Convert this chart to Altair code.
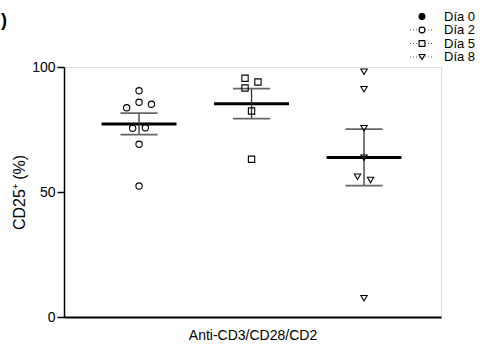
import altair as alt
import pandas as pd

# ---- data ----
groups = ["Día 2", "Día 5", "Día 8"]
group_pos = [1, 2, 3]
dia2_vals = [90.5, 85.9, 83.7, 85.1, 75.5, 75.7, 69.1, 52.4]
dia2_jit = [0.0, 0.0, -0.11, 0.11, -0.057, 0.056, 0.0, 0.0]
dia5_vals = [95.5, 94.0, 91.6, 82.4, 63.1]
dia5_jit = [-0.058, 0.057, -0.058, 0.0, 0.0]
dia8_vals = [98.1, 91.1, 75.5, 63.7, 56.1, 54.8, 7.5]
dia8_jit = [0.0, 0.0, 0.0, 0.0, -0.058, 0.058, 0.0]
legend_labels = ["Día 0", "Día 2", "Día 5", "Día 8"]
legend_shapes = ["circle", "circle", "square", "triangle-down"]
y_ticks = [0, 50, 100]

rows = []
for g, p, vals, jit in zip(groups, group_pos,
                           [dia2_vals, dia5_vals, dia8_vals],
                           [dia2_jit, dia5_jit, dia8_jit]):
    for v, j in zip(vals, jit):
        rows.append({"grupo": g, "pos": p, "xj": p + j, "valor": v})
df = pd.DataFrame(rows)

FONT = "Liberation Sans"
xscale = alt.Scale(domain=[0.333, 3.684], nice=False, zero=False)
yscale = alt.Scale(domain=[0, 100], nice=False)

base = alt.Chart(df)

points = base.mark_point(filled=False, stroke="black", strokeWidth=1.1, size=40, opacity=1).encode(
    x=alt.X("xj:Q", scale=xscale,
            axis=alt.Axis(title="Anti-CD3/CD28/CD2", labels=False, ticks=False, grid=False,
                          domainColor="black", domainWidth=2, titleFont=FONT,
                          titleFontSize=14, titleFontWeight="normal", titleColor="black",
                          titlePadding=11)),
    y=alt.Y("valor:Q", scale=yscale,
            axis=alt.Axis(title="CD25⁺ (%)", values=y_ticks, grid=False, tickSize=7,
                          tickColor="black", tickWidth=1.5, domainColor="black",
                          domainWidth=1.5, labelFont=FONT, labelFontSize=14,
                          labelColor="black", labelPadding=2, titleFont=FONT,
                          titleFontSize=16, titleFontWeight="normal", titleColor="black",
                          titlePadding=4)),
    shape=alt.Shape("grupo:N", scale=alt.Scale(domain=groups,
                                               range=["circle", "square", "triangle-down"]),
                    legend=None),
)

stats = base.transform_aggregate(
    m="mean(valor)", se="stderr(valor)", groupby=["grupo", "pos"]
).transform_calculate(
    lo="datum.m - datum.se", hi="datum.m + datum.se",
    ml="datum.pos - 0.333", mr="datum.pos + 0.333",
    cl="datum.pos - 0.165", cr="datum.pos + 0.165",
)

mean_line = stats.mark_rule(color="black", strokeWidth=3).encode(
    x=alt.X("ml:Q", scale=xscale), x2="mr:Q", y=alt.Y("m:Q", scale=yscale))
whisker = stats.mark_rule(color="#333333", strokeWidth=1.3).encode(
    x=alt.X("pos:Q", scale=xscale), y=alt.Y("lo:Q", scale=yscale), y2="hi:Q")
cap_hi = stats.mark_rule(color="#666666", strokeWidth=1.8).encode(
    x=alt.X("cl:Q", scale=xscale), x2="cr:Q", y=alt.Y("hi:Q", scale=yscale))
cap_lo = stats.mark_rule(color="#666666", strokeWidth=1.8).encode(
    x=alt.X("cl:Q", scale=xscale), x2="cr:Q", y=alt.Y("lo:Q", scale=yscale))

layers = [mean_line, whisker, cap_hi, cap_lo, points]

# ---- manual legend (top right) ----
row_y = [-50.5, -37, -23.5, -10]
for i, (lab, shp) in enumerate(zip(legend_labels, legend_shapes)):
    d = alt.Chart(pd.DataFrame({"lab": [lab]}))
    if i > 0:
        layers.append(d.mark_rule(color="#555555", strokeWidth=1, strokeDash=[1, 2]).encode(
            x=alt.value(346), x2=alt.value(369), y=alt.value(row_y[i])))
    layers.append(d.mark_point(shape=shp, filled=(i == 0), fill="black" if i == 0 else "white",
                               stroke="black", strokeWidth=1.1, size=34, opacity=1).encode(
        x=alt.value(358), y=alt.value(row_y[i])))
    layers.append(d.mark_text(align="left", baseline="middle", font=FONT, fontSize=13,
                              color="black").encode(
        x=alt.value(380), y=alt.value(row_y[i]), text="lab:N"))

panel = alt.Chart(pd.DataFrame({"t": [")"]})).mark_text(
    align="left", baseline="middle", font=FONT, fontSize=18, fontWeight="bold", color="black"
).encode(x=alt.value(-63), y=alt.value(-46), text="t:N")
layers.append(panel)

chart = alt.layer(*layers).properties(
    width=377, height=250,
    autosize=alt.AutoSizeParams(type="none"),
    padding={"left": 64, "top": 67, "right": 46, "bottom": 32},
).configure_view(stroke=None).configure(background="white")

chart.save("out.html", embed_options={"renderer": "svg", "actions": False})
